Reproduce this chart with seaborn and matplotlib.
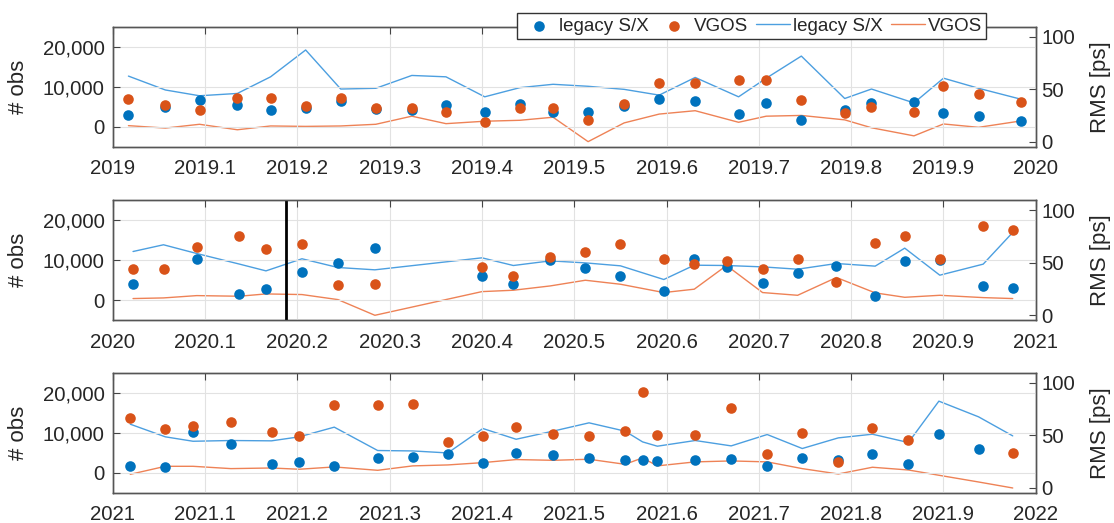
import numpy as np
import matplotlib
matplotlib.use("Agg")
import matplotlib.pyplot as plt
import seaborn as sns

# session epochs as fraction of the year, per panel
t_2019 = [0.017, 0.057, 0.094, 0.135, 0.171, 0.209, 0.247, 0.285, 0.324, 0.361, 0.403, 0.441, 0.477,
          0.515, 0.554, 0.592, 0.631, 0.678, 0.708, 0.746, 0.793, 0.822, 0.868, 0.900, 0.938, 0.984]
obs_sx_2019 = [3000, 4900, 6600, 5500, 4100, 4700, 6400, 4500, 4100, 5500, 3700, 5650, 3750,
               3600, 5250, 6900, 6500, 3200, 5900, 1750, 4250, 5900, 6100, 3400, 2600, 1350]
obs_vgos_2019 = [6900, 5500, 4250, 7150, 7150, 5250, 7150, 4800, 4800, 3800, 1150, 4600, 4750,
                 1750, 5750, 10900, 10900, 11750, 11750, 6750, 3400, 4900, 3600, 10100, 8200, 6100]
rms_sx_2019 = [62.6, 49.4, 43.9, 46.1, 61.9, 87.4, 50.3, 51.0, 63.2, 61.9, 42.9, 51.6, 54.8,
               52.9, 50.0, 44.5, 61.3, 42.9, 60.6, 81.6, 41.3, 50.3, 37.1, 60.6, 51.0, 40.6]
rms_vgos_2019 = [15.5, 13.2, 16.8, 11.6, 15.2, 14.8, 15.2, 16.8, 24.5, 17.4, 19.7, 20.6, 23.5,
                 0.3, 18.1, 26.5, 29.7, 18.7, 24.5, 25.2, 21.0, 13.5, 5.8, 17.1, 13.9, 20.0]

t_2020 = [0.022, 0.055, 0.091, 0.137, 0.166, 0.205, 0.244, 0.284, 0.400, 0.434, 0.474, 0.512,
          0.550, 0.597, 0.630, 0.665, 0.704, 0.742, 0.784, 0.826, 0.858, 0.896, 0.943, 0.975]
obs_sx_2020 = [4130, np.nan, 10330, 1570, 2730, 6940, 9170, 13060, 6120, 4130, 10000, 8100,
               5950, 2150, 10250, 8350, 4380, 6690, 8510, 910, 9830, 10000, 3550, 2890]
obs_vgos_2020 = [7690, 7770, 13300, 16030, 12640, 14130, 3800, 4130, 8350, 6030, 10660, 11980,
                 14130, 10170, 9010, 9670, 7690, 10170, 4630, 14300, 15950, 10170, 18430, 17440]
rms_sx_2020 = [60.6, 67.0, 58.7, 48.7, 42.2, 53.7, 45.4, 43.2, 54.6, 47.3, 51.7, 49.8,
               47.0, 34.0, 47.6, 47.3, 46.0, 43.8, 49.2, 46.7, 63.8, 38.1, 48.6, 78.7]
rms_vgos_2020 = [15.9, 16.5, 18.7, 18.1, 20.3, 19.7, 14.9, 0.0, 22.5, 23.8, 27.9, 33.3,
                 29.5, 21.6, 24.8, 47.3, 21.6, 19.0, 35.9, 21.3, 17.1, 19.0, 16.8, 15.9]
event_2020 = 2020.1875

t_2021 = [0.019, 0.057, 0.087, 0.128, 0.172, 0.202, 0.240, 0.287, 0.325, 0.363, 0.401, 0.437, 0.477,
          0.516, 0.555, 0.574, 0.590, 0.631, 0.670, 0.709, 0.747, 0.786, 0.823, 0.862, 0.895, 0.938, 0.975]
obs_sx_2021 = [1750, 1500, 10250, 7080, 2170, 2580, 1580, 3580, 3830, 4670, 2500, 5000, 4420,
               3750, 3170, 3170, 3000, 3170, 3420, 1670, 3580, 3250, 4750, 2170, 9670, 6000, np.nan]
obs_vgos_2021 = [13580, 10920, 11750, 12580, 10080, 9250, 16920, 16920, 17170, 7580, 9250, 11330, 9580,
                 9250, 10420, 20250, 9420, 9420, 16080, 4670, 10000, 2750, 11170, 8170, np.nan, np.nan, 5000]
rms_sx_2021 = [60.6, 48.6, 44.4, 45.1, 44.8, 48.6, 57.8, 35.6, 35.2, 33.3, 56.5, 46.3, 54.0,
               61.9, 54.0, 43.8, 39.7, 45.1, 40.0, 50.8, 37.5, 47.6, 51.1, 43.2, 82.5, 67.6, 49.5]
rms_vgos_2021 = [13.0, 20.6, 20.6, 18.4, 19.0, 17.8, 20.0, 16.8, 21.0, 21.9, 24.1, 27.0, 26.3,
                 27.3, 22.5, 28.6, 21.0, 24.8, 25.7, 24.8, 18.4, 13.3, 19.7, 17.1, 12.1, 5.7, 0.0]

panels = [
    (2019, t_2019, obs_sx_2019, obs_vgos_2019, rms_sx_2019, rms_vgos_2019),
    (2020, t_2020, obs_sx_2020, obs_vgos_2020, rms_sx_2020, rms_vgos_2020),
    (2021, t_2021, obs_sx_2021, obs_vgos_2021, rms_sx_2021, rms_vgos_2021),
]

sns.set_style("white")
plt.rcParams['font.family'] = ['Liberation Sans', 'DejaVu Sans']

blue, orange = '#0072BD', '#D95319'
blue_ln, orange_ln = '#4c9fe0', '#ee8256'
dark = '#262626'

fig = plt.figure(figsize=(11.14, 5.23), dpi=100)
bottoms = [0.7195, 0.3881, 0.0579]

for i, (yr, t, o_sx, o_vg, r_sx, r_vg) in enumerate(panels):
    ax = fig.add_axes([0.1012, bottoms[i], 0.8286, 0.2294])
    ax2 = ax.twinx()
    x = yr + np.array(t)

    sns.lineplot(x=x, y=r_sx, ax=ax2, color=blue_ln, lw=1.0, label='legacy S/X', legend=False)
    sns.lineplot(x=x, y=r_vg, ax=ax2, color=orange_ln, lw=1.0, label='VGOS', legend=False)
    sns.scatterplot(x=x, y=o_sx, ax=ax, color=blue, s=58, linewidth=0, label='legacy S/X', legend=False)
    sns.scatterplot(x=x, y=o_vg, ax=ax, color=orange, s=58, linewidth=0, label='VGOS', legend=False)
    if yr == 2020:
        ax.axvline(event_2020, color='k', lw=2)

    ax.set_zorder(ax2.get_zorder() + 1)
    ax.patch.set_visible(False)

    xt = np.round(yr + np.arange(11) / 10, 1)
    ax.set_xlim(yr, yr + 1)
    ax.set_xticks(xt)
    ax.set_xticklabels([f'{v:g}' for v in xt])
    ax.set_ylim(-5000, 25000)
    ax.set_yticks([0, 10000, 20000])
    ax.set_yticklabels(['0', '10,000', '20,000'])
    ax2.set_ylim(-4.5, 109.5)
    ax2.set_yticks([0, 50, 100])

    ax.grid(True, color='#e2e2e2', lw=0.8)
    ax.tick_params(axis='both', direction='in', top=True, length=5, width=0.8,
                   color='#444444', labelcolor=dark, labelsize=14.7)
    ax.tick_params(axis='x', pad=9)
    ax.tick_params(axis='y', pad=6)
    ax2.tick_params(axis='y', direction='in', length=5, width=0.8, pad=4,
                    color='#444444', labelcolor=dark, labelsize=14.7)
    for a in (ax, ax2):
        for sp in a.spines.values():
            sp.set_color('#555555')
            sp.set_linewidth(1.0)

    ax.set_xlabel('')
    ax.set_ylabel('# obs', fontsize=16, color=dark)
    ax.yaxis.set_label_coords(-0.091, 0.5)
    ax2.set_ylabel('RMS [ps]', fontsize=16, color=dark)
    ax2.yaxis.set_label_coords(1.059, 0.5)

    if i == 0:
        h1, l1 = ax.get_legend_handles_labels()
        h2, l2 = ax2.get_legend_handles_labels()
        handles, labels = h1 + h2, l1 + l2

fig.legend(handles, labels, loc='center', bbox_to_anchor=(0.675, 0.95), ncol=4,
           fontsize=13.5, frameon=True, fancybox=False, edgecolor='#333333', framealpha=1,
           handlelength=1.8, handletextpad=0.15, columnspacing=0.45, borderpad=0.25,
           borderaxespad=0, scatterpoints=1)

fig.savefig('out.png', dpi=100)
